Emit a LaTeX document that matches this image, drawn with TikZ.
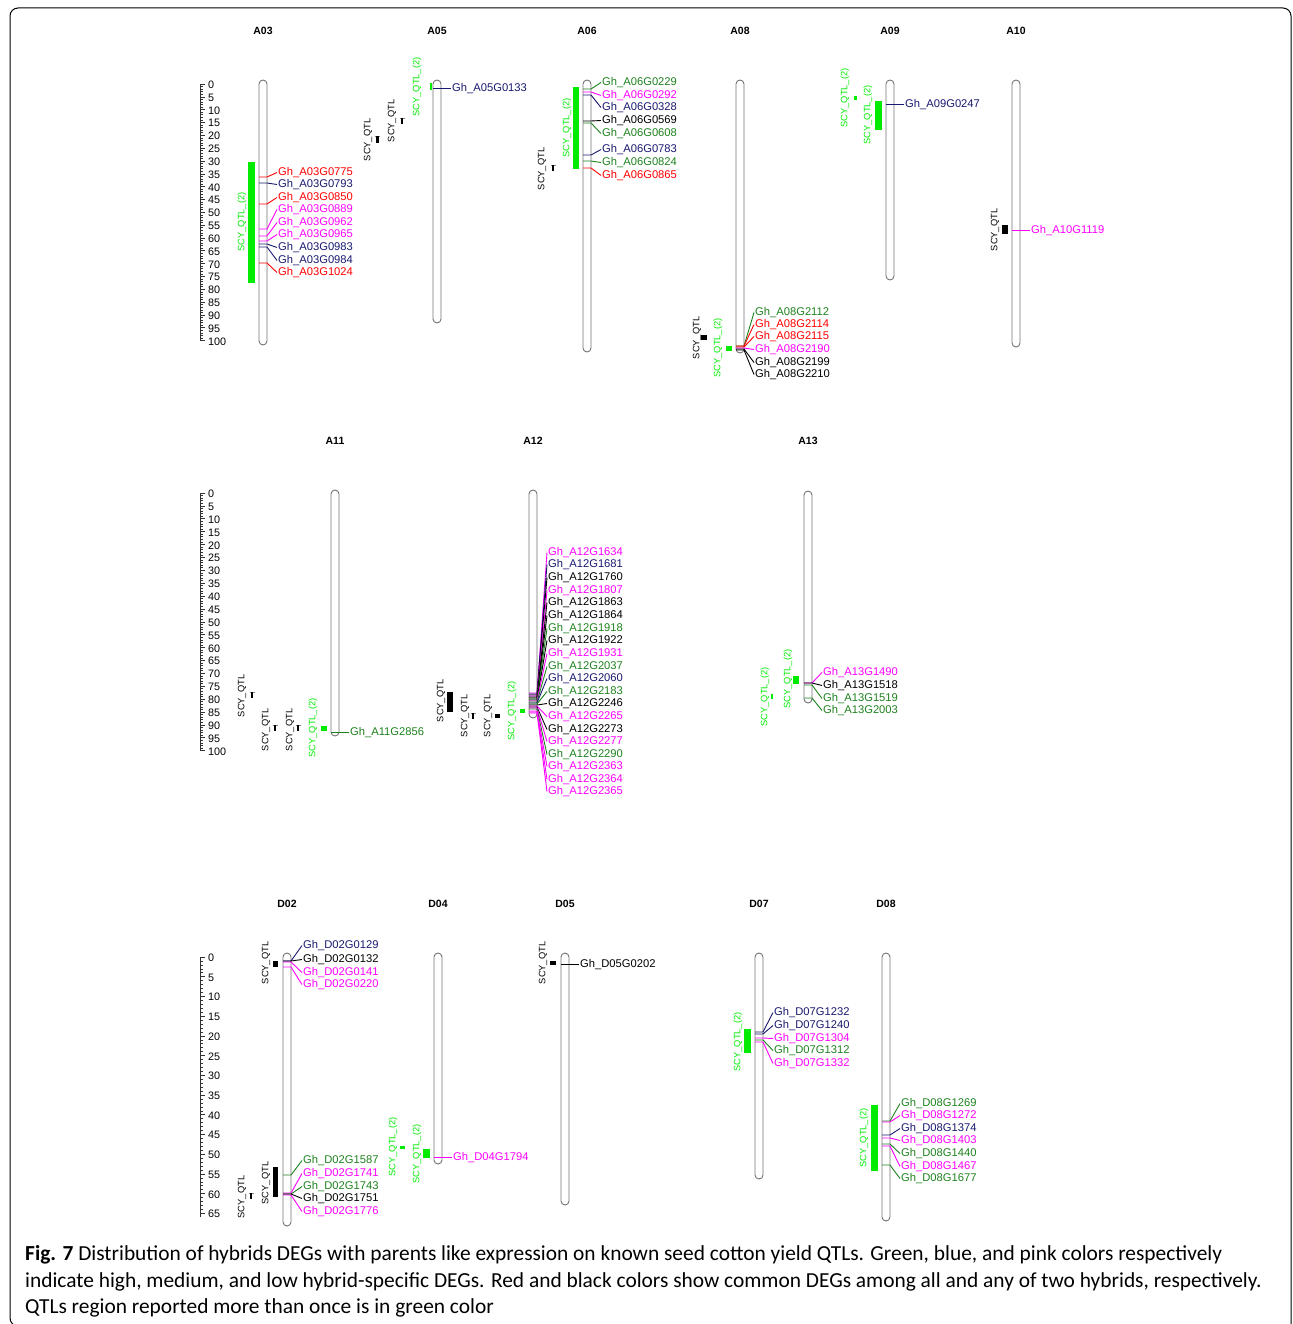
\documentclass[tikz,border=0pt]{standalone}
\usepackage{fontspec}
\setmainfont{Liberation Sans}
\newfontfamily\capfont{Carlito}
\definecolor{qtlgreen}{RGB}{0, 235, 0}
\definecolor{ggreen}{RGB}{30, 130, 30}
\definecolor{gblue}{RGB}{25, 25, 112}
\definecolor{gred}{RGB}{255, 0, 0}
\definecolor{gpink}{RGB}{255, 0, 255}
\definecolor{gblack}{RGB}{0, 0, 0}
\definecolor{chromgray}{RGB}{115, 115, 115}
\usepackage{tikz}
\usetikzlibrary{positioning, calc}

\begin{document}
\begin{tikzpicture}[x=1pt, y=-1pt,
    chrom/.style={draw=chromgray, fill=white, line width=0.9pt, rounded corners=4pt, minimum width=8pt, inner sep=0pt},
    gene/.style={anchor=west, inner sep=1pt, yshift=-1.5pt, font=\fontsize{11.2}{12}\selectfont},
    link/.style={line width=0.9pt},
    qtl/.style={fill=qtlgreen},
    qtltext/.style={rotate=90, inner sep=0pt, font=\fontsize{9.3}{10}\selectfont},
    title/.style={yshift=-1pt, font=\bfseries\fontsize{10.5}{12}\selectfont},
    ticklabel/.style={anchor=west, inner sep=0pt, yshift=-0.8pt, font=\fontsize{10.8}{12}\selectfont},
    rule/.style={draw=black!80, line width=0.6pt},
    caption/.style={anchor=base west, inner sep=0pt, font=\capfont\fontsize{21.4}{26}\selectfont}]

\useasboundingbox (0,0) rectangle (1292,1324);
\draw[line width=1pt, rounded corners=8pt] (16,1326) -- (10,1326) -- (10,8) -- (1291,8) -- (1291,1326);

% rulers
\draw[rule] (200,84) -- (200,341);
\foreach \v in {0,...,100} \draw[rule] (200,{84+2.566*\v}) -- ++(2.5,0);
\foreach \v in {0,5,...,100} {
  \draw[rule] (200,{84+2.566*\v}) -- ++(5,0);
  \node[ticklabel] (ra\v) at (208,{84+2.566*\v}) {\v};
}
\draw[rule] (200,493) -- (200,751);
\foreach \v in {0,...,100} \draw[rule] (200,{493+2.576*\v}) -- ++(2.5,0);
\foreach \v in {0,5,...,100} {
  \draw[rule] (200,{493+2.576*\v}) -- ++(5,0);
  \node[ticklabel] (rb\v) at (208,{493+2.576*\v}) {\v};
}
\draw[rule] (200,957) -- (200,1217);
\foreach \v in {0,...,65} \draw[rule] (200,{957+3.944*\v}) -- ++(2.5,0);
\foreach \v in {0,5,...,65} {
  \draw[rule] (200,{957+3.944*\v}) -- ++(5,0);
  \node[ticklabel] (rc\v) at (208,{957+3.944*\v}) {\v};
}

% titles
\node[title] (tA03) at (263,30) {A03};
\node[title] (tA05) at (437,30) {A05};
\node[title] (tA06) at (587,30) {A06};
\node[title] (tA08) at (740,30) {A08};
\node[title] (tA09) at (890,30) {A09};
\node[title] (tA10) at (1016,30) {A10};
\node[title] (tA11) at (335,440) {A11};
\node[title] (tA12) at (533,440) {A12};
\node[title] (tA13) at (808,440) {A13};
\node[title] (tD02) at (287,903) {D02};
\node[title] (tD04) at (438,903) {D04};
\node[title] (tD05) at (565,903) {D05};
\node[title] (tD07) at (759,903) {D07};
\node[title] (tD08) at (886,903) {D08};

% chromosomes
\node[chrom, minimum height=265pt] (A03) at (263,212.5) {};
\node[chrom, minimum height=243pt] (A05) at (437,201.5) {};
\node[chrom, minimum height=272pt] (A06) at (587,216) {};
\node[chrom, minimum height=273pt] (A08) at (740,216.5) {};
\node[chrom, minimum height=200pt] (A09) at (890,180) {};
\node[chrom, minimum height=267pt] (A10) at (1016,213.5) {};
\node[chrom, minimum height=246pt] (A11) at (335,613) {};
\node[chrom, minimum height=228pt] (A12) at (533,604) {};
\node[chrom, minimum height=212pt] (A13) at (808,597) {};
\node[chrom, minimum height=273pt] (D02) at (287,1089.5) {};
\node[chrom, minimum height=211pt] (D04) at (438,1058.5) {};
\node[chrom, minimum height=252pt] (D05) at (565,1079) {};
\node[chrom, minimum height=226pt] (D07) at (759,1066) {};
\node[chrom, minimum height=268pt] (D08) at (886,1087) {};

% green QTLs reported more than once
\fill[qtl] (248,162) rectangle (255,283);
\node[qtltext, text=qtlgreen] (qA03) at (242,222) {SCY\_QTL\_(2)};
\fill[qtl] (429.5,83) rectangle (431.5,90);
\node[qtltext, text=qtlgreen] (qA05) at (417,87) {SCY\_QTL\_(2)};
\fill[qtl] (573,87) rectangle (579,169);
\node[qtltext, text=qtlgreen] (qA06) at (567,128) {SCY\_QTL\_(2)};
\fill[qtl] (726,346) rectangle (732,351);
\node[qtltext, text=qtlgreen] (qA08) at (718,348) {SCY\_QTL\_(2)};
\fill[qtl] (854,96) rectangle (857,100);
\node[qtltext, text=qtlgreen] (qA09a) at (845,98) {SCY\_QTL\_(2)};
\fill[qtl] (875,101) rectangle (882,130);
\node[qtltext, text=qtlgreen] (qA09b) at (868,115) {SCY\_QTL\_(2)};
\fill[qtl] (321,726) rectangle (327,731);
\node[qtltext, text=qtlgreen] (qA11) at (313,728) {SCY\_QTL\_(2)};
\fill[qtl] (520,709) rectangle (525,713);
\node[qtltext, text=qtlgreen] (qA12) at (512,711) {SCY\_QTL\_(2)};
\fill[qtl] (771,694) rectangle (773,699);
\node[qtltext, text=qtlgreen] (qA13a) at (765,697) {SCY\_QTL\_(2)};
\fill[qtl] (793,676) rectangle (799,684);
\node[qtltext, text=qtlgreen] (qA13b) at (788,679) {SCY\_QTL\_(2)};
\fill[qtl] (400,1146) rectangle (405,1149);
\node[qtltext, text=qtlgreen] (qD04a) at (393,1147) {SCY\_QTL\_(2)};
\fill[qtl] (423,1149) rectangle (430,1158);
\node[qtltext, text=qtlgreen] (qD04b) at (417,1154) {SCY\_QTL\_(2)};
\fill[qtl] (744,1029) rectangle (751,1053);
\node[qtltext, text=qtlgreen] (qD07) at (738,1042) {SCY\_QTL\_(2)};
\fill[qtl] (871,1105) rectangle (878,1171);
\node[qtltext, text=qtlgreen] (qD08) at (864,1138) {SCY\_QTL\_(2)};

% other QTLs
\foreach \x/\y in {402/121, 553/168, 252/695, 275/728, 298/728, 473/716, 251/1196} {
  \draw[gray, line width=0.6pt] (\x-2.5,\y-3) -- (\x+2.5,\y-3);
  \draw[black, line width=1.1pt] (\x,\y-3) -- (\x,\y+3);
}
\draw[gray, line width=0.6pt] (374.5,136) -- (379.5,136);
\fill[black] (376,136) rectangle (378.5,143);
\fill[black] (701,335) rectangle (707,340);
\fill[black] (1002,225) rectangle (1008,234);
\fill[black] (447,692) rectangle (453,712);
\fill[black] (495,714) rectangle (499.5,717.5);
\fill[black] (273,961) rectangle (278,967);
\fill[black] (273,1167) rectangle (278,1197);
\fill[black] (550,961) rectangle (556,964.5);
\node[qtltext] (sA05a) at (392,121) {SCY\_QTL};
\node[qtltext] (sA05b) at (368,140) {SCY\_QTL};
\node[qtltext] (sA06) at (542,169) {SCY\_QTL};
\node[qtltext] (sA08) at (697,338) {SCY\_QTL};
\node[qtltext] (sA10) at (995,230) {SCY\_QTL};
\node[qtltext] (sA11a) at (242,696) {SCY\_QTL};
\node[qtltext] (sA11b) at (266,730) {SCY\_QTL};
\node[qtltext] (sA11c) at (290,730) {SCY\_QTL};
\node[qtltext] (sA12a) at (441,701) {SCY\_QTL};
\node[qtltext] (sA12b) at (465,716) {SCY\_QTL};
\node[qtltext] (sA12c) at (488,716) {SCY\_QTL};
\node[qtltext] (sD02a) at (266,963) {SCY\_QTL};
\node[qtltext] (sD02b) at (266,1183) {SCY\_QTL};
\node[qtltext] (sD02c) at (242,1197) {SCY\_QTL};
\node[qtltext] (sD05) at (543,963) {SCY\_QTL};

% DEGs
\foreach \m/\l/\c/\id in {177/171/gred/0775, 183/183/gblue/0793, 204/196/gred/0850,
    229/208/gpink/0889, 236/221/gpink/0962, 241/233/gpink/0965, 244/246/gblue/0983,
    247/259/gblue/0984, 263/271/gred/1024} {
  \node[gene, text=\c] (A03\id) at (277,\l) {Gh\_A03G\id};
  \draw[link, \c] (259,\m) -- (267,\m) -- (A03\id.west);
}
\node[gene, text=gblue] (A050133) at (451,87) {Gh\_A05G0133};
\draw[link, gblue] (433,88.5) -- (A050133.west);
\foreach \m/\l/\c/\id in {89/81/ggreen/0229, 92/94/gpink/0292, 95/106/gblue/0328,
    121/119/gblack/0569, 123/132/ggreen/0608, 155/148/gblue/0783, 161/161/ggreen/0824,
    168/174/gred/0865} {
  \node[gene, text=\c] (A06\id) at (601,\l) {Gh\_A06G\id};
  \draw[link, \c] (583,\m) -- (591,\m) -- (A06\id.west);
}
\foreach \m/\l/\c/\id in {346/311/ggreen/2112, 346/323/gred/2114, 347/335/gred/2115,
    348/348/gpink/2190, 349/361/gblack/2199, 350/373/gblack/2210} {
  \node[gene, text=\c] (A08\id) at (754,\l) {Gh\_A08G\id};
  \draw[link, \c] (736,\m) -- (744,\m) -- (A08\id.west);
}
\node[gene, text=gblue] (A090247) at (904,103) {Gh\_A09G0247};
\draw[link, gblue] (886,104.5) -- (A090247.west);
\node[gene, text=gpink] (A101119) at (1030,229) {Gh\_A10G1119};
\draw[link, gpink] (1012,230.5) -- (A101119.west);
\node[gene, text=ggreen] (A112856) at (349,731) {Gh\_A11G2856};
\draw[link, ggreen] (331,732.5) -- (A112856.west);
\foreach \m/\l/\c/\id in {693/551/gpink/1634, 694/563/gblue/1681, 695/576/gblack/1760,
    696/589/gpink/1807, 697/601/gblack/1863, 698/614/gblack/1864, 699/627/ggreen/1918,
    700/639/gblack/1922, 701/652/gpink/1931, 702/665/ggreen/2037, 703/677/gblue/2060,
    704/690/ggreen/2183, 705/702/gblack/2246, 706/715/gpink/2265, 707/728/gblack/2273,
    708/740/gpink/2277, 709/753/ggreen/2290, 711/765/gpink/2363, 712/778/gpink/2364,
    713/790/gpink/2365} {
  \node[gene, text=\c] (A12\id) at (547,\l) {Gh\_A12G\id};
  \draw[link, \c] (529,\m) -- (537,\m) -- (A12\id.west);
}
\foreach \m/\l/\c/\id in {683/671/gpink/1490, 683/684/gblack/1518, 685/697/ggreen/1519,
    698/709/ggreen/2003} {
  \node[gene, text=\c] (A13\id) at (822,\l) {Gh\_A13G\id};
  \draw[link, \c] (804,\m) -- (812,\m) -- (A13\id.west);
}
\foreach \m/\l/\c/\id in {961/944/gblue/0129, 961/958/gblack/0132, 962/971/gpink/0141,
    967/983/gpink/0220, 1175/1159/ggreen/1587, 1193/1172/gpink/1741, 1194/1185/ggreen/1743,
    1194/1197/gblack/1751, 1195/1210/gpink/1776} {
  \node[gene, text=\c] (D02\id) at (302,\l) {Gh\_D02G\id};
  \draw[link, \c] (283,\m) -- (291,\m) -- (D02\id.west);
}
\node[gene, text=gpink] (D041794) at (452,1156) {Gh\_D04G1794};
\draw[link, gpink] (434,1157.5) -- (D041794.west);
\node[gene, text=gblack] (D050202) at (579,963) {Gh\_D05G0202};
\draw[link, gblack] (561,964.5) -- (D050202.west);
\foreach \m/\l/\c/\id in {1032/1011/gblue/1232, 1034/1024/gblue/1240, 1038/1037/gpink/1304,
    1040/1049/ggreen/1312, 1042/1062/gpink/1332} {
  \node[gene, text=\c] (D07\id) at (773,\l) {Gh\_D07G\id};
  \draw[link, \c] (755,\m) -- (763,\m) -- (D07\id.west);
}
\foreach \m/\l/\c/\id in {1121/1102/ggreen/1269, 1122/1114/gpink/1272, 1135/1127/gblue/1374,
    1138/1139/gpink/1403, 1144/1152/ggreen/1440, 1146/1165/gpink/1467, 1165/1177/ggreen/1677} {
  \node[gene, text=\c] (D08\id) at (900,\l) {Gh\_D08G\id};
  \draw[link, \c] (882,\m) -- (890,\m) -- (D08\id.west);
}

% caption
\node[caption] (cap1) at (25,1260) {\textbf{Fig. 7} Distribution of hybrids DEGs with parents like expression on known seed cotton yield QTLs. Green, blue, and pink colors respectively};
\node[caption] (cap2) at (25,1287) {indicate high, medium, and low hybrid-specific DEGs. Red and black colors show common DEGs among all and any of two hybrids, respectively.};
\node[caption] (cap3) at (25,1313) {QTLs region reported more than once is in green color};
\end{tikzpicture}
\end{document}
